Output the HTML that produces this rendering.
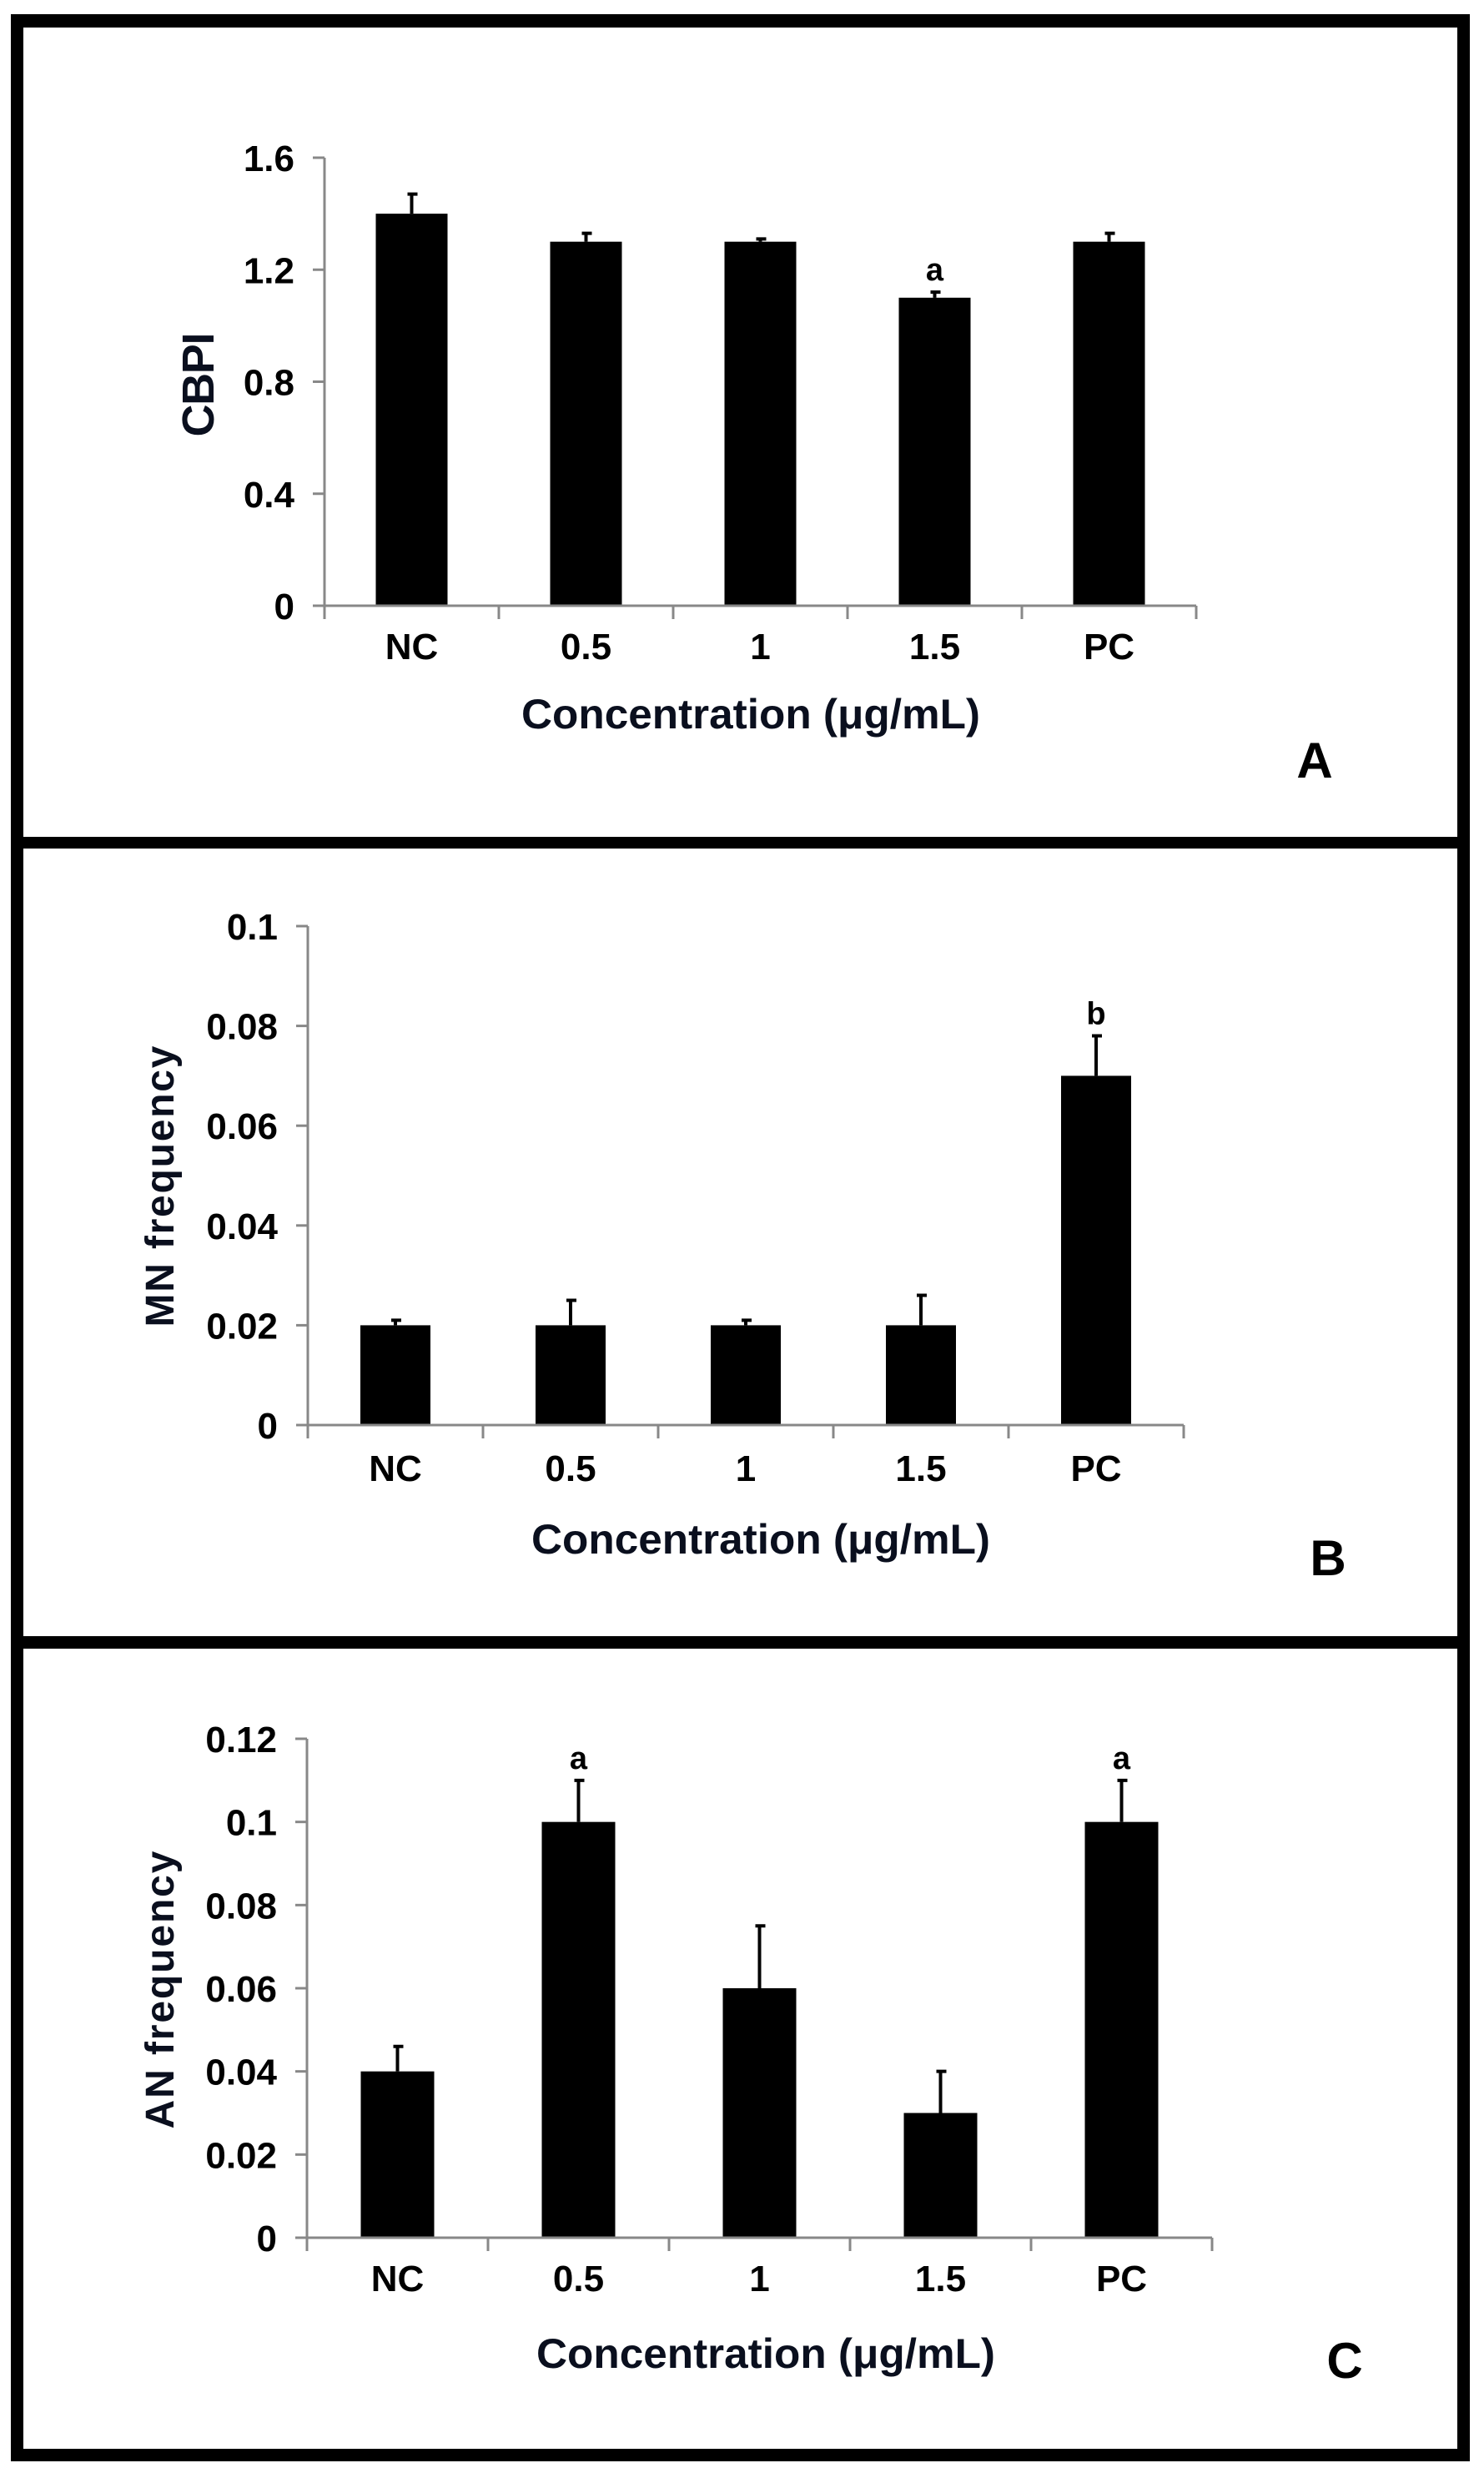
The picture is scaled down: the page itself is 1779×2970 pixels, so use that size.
<!DOCTYPE html>
<html><head><meta charset="utf-8"><style>
html,body{margin:0;padding:0;background:#fff}
svg{display:block}
text{font-family:"Liberation Sans",Arial,sans-serif;font-weight:bold}
</style></head><body>
<svg id="fig" width="1779" height="2970" viewBox="0 0 1779 2970" xmlns="http://www.w3.org/2000/svg">
<rect x="0" y="0" width="1779" height="2970" fill="#fff"/>
<g fill="#000">
<rect x="13" y="17" width="1749" height="16"/>
<rect x="13" y="17" width="15" height="2933"/>
<rect x="1747" y="17" width="15" height="2933"/>
<rect x="13" y="2935" width="1749" height="15"/>
<rect x="13" y="1003" width="1749" height="14"/>
<rect x="13" y="1961" width="1749" height="15"/>
</g>
<g id="charts"></g>
</svg>
<script>
const categories = ["NC","0.5","1","1.5","PC"];
const cbpiValues = [1.4,1.3,1.3,1.1,1.3];
const cbpiErrors = [0.07,0.03,0.01,0.02,0.03];
const cbpiMarks = ["","","","a",""];
const cbpiTicks = [0,0.4,0.8,1.2,1.6];
const cbpiTickLabels = ["0","0.4","0.8","1.2","1.6"];
const mnValues = [0.02,0.02,0.02,0.02,0.07];
const mnErrors = [0.001,0.005,0.001,0.006,0.008];
const mnMarks = ["","","","","b"];
const mnTicks = [0,0.02,0.04,0.06,0.08,0.1];
const mnTickLabels = ["0","0.02","0.04","0.06","0.08","0.1"];
const anValues = [0.04,0.1,0.06,0.03,0.1];
const anErrors = [0.006,0.01,0.015,0.01,0.01];
const anMarks = ["","a","","","a"];
const anTicks = [0,0.02,0.04,0.06,0.08,0.1,0.12];
const anTickLabels = ["0","0.02","0.04","0.06","0.08","0.1","0.12"];

const NS="http://www.w3.org/2000/svg";
const root=document.getElementById('charts');
function mk(tag,attrs,parent){const e=document.createElementNS(NS,tag);for(const k in attrs)e.setAttribute(k,attrs[k]);(parent||root).appendChild(e);return e;}

function drawChart(cfg){
  const g=mk('g',{});
  
  
  const y=v=>cfg.y0-(v-cfg.vmin)/(cfg.vmax-cfg.vmin)*(cfg.y0-cfg.y1);
  const xc=i=>cfg.x0+(i+0.5)*cfg.step;
  const xEnd=cfg.x0+cfg.step*categories.length;
  cfg.values.forEach((v,i)=>{
    const b=mk('rect',{x:xc(i)-cfg.bw/2,y:y(v),width:cfg.bw,height:cfg.y0-y(v),fill:'#000'},g);
    
    
    const top=y(v+cfg.errors[i]);
    const e=mk('path',{d:`M${xc(i)} ${y(v)}V${top}M${xc(i)-5} ${top}H${xc(i)+7}`,stroke:'#000','stroke-width':4,fill:'none'},g);
    
    
    if(cfg.marks[i]){
      const t=mk('text',{x:xc(i),y:top-14,'text-anchor':'middle','font-size':38,fill:'#000'},g);
      t.textContent=cfg.marks[i];
      
      
    }
  });
  const ya=mk('line',{x1:cfg.x0,y1:y(cfg.ticks[cfg.ticks.length-1]),x2:cfg.x0,y2:cfg.y0+16,stroke:'#888','stroke-width':3},g);
  
  
  const xa=mk('line',{x1:cfg.x0-14,y1:cfg.y0,x2:xEnd,y2:cfg.y0,stroke:'#888','stroke-width':3},g);
  
  
  for(let i=1;i<=categories.length;i++){
    mk('line',{x1:cfg.x0+i*cfg.step,y1:cfg.y0,x2:cfg.x0+i*cfg.step,y2:cfg.y0+16,stroke:'#888','stroke-width':3},g);
  }
  cfg.ticks.forEach((v,i)=>{
    mk('line',{x1:cfg.x0-14,y1:y(v),x2:cfg.x0,y2:y(v),stroke:'#888','stroke-width':3},g);
    const t=mk('text',{x:cfg.x0-36,y:y(v)+16,'text-anchor':'end','font-size':44,fill:'#000'},g);
    t.textContent=cfg.tickLabels[i];
    
    
  });
  categories.forEach((c,i)=>{
    const t=mk('text',{x:xc(i),y:cfg.y0+cfg.labOff,'text-anchor':'middle','font-size':44,fill:'#000'},g);
    t.textContent=c;
    
    
  });
  const xt=mk('text',{x:cfg.titleX,y:cfg.y0+cfg.titleOff,'text-anchor':'middle','font-size':50,fill:'#0a0f1e',textLength:550,lengthAdjust:'spacingAndGlyphs'},g);
  xt.textContent='Concentration (μg/mL)';
  
  
  const yt=mk('text',{x:0,y:0,'text-anchor':'middle','font-size':cfg.ytSize,fill:'#0a0f1e',transform:`translate(${cfg.ytX},${cfg.ytY}) rotate(-90)`},g);
  if(cfg.ytLen) yt.setAttribute('textLength',cfg.ytLen);
  yt.textContent=cfg.yTitle;
  
  
  const pl=mk('text',{x:cfg.letterX,y:cfg.letterY,'text-anchor':'middle','font-size':60,fill:'#000'},g);
  pl.textContent=cfg.letter;
  
  
}

drawChart({name:'chart-cbpi',values:cbpiValues,errors:cbpiErrors,marks:cbpiMarks,ticks:cbpiTicks,tickLabels:cbpiTickLabels,
  vmin:0,vmax:1.6,x0:389,y0:726,y1:189,step:209,bw:86,labOff:64,titleOff:147,titleX:900,
  ytX:256,ytY:461,yTitle:'CBPI',ytLen:125,ytSize:54,letter:'A',letterX:1576,letterY:932});
drawChart({name:'chart-mn-frequency',values:mnValues,errors:mnErrors,marks:mnMarks,ticks:mnTicks,tickLabels:mnTickLabels,
  vmin:0,vmax:0.1,x0:369,y0:1708,y1:1110,step:210,bw:84,labOff:67,titleOff:154,titleX:912,
  ytX:208,ytY:1422,yTitle:'MN frequency',ytLen:337,ytSize:48,letter:'B',letterX:1592,letterY:1888});
drawChart({name:'chart-an-frequency',values:anValues,errors:anErrors,marks:anMarks,ticks:anTicks,tickLabels:anTickLabels,
  vmin:0,vmax:0.12,x0:368,y0:2682,y1:2084,step:217,bw:88,labOff:64,titleOff:156,titleX:918,
  ytX:208,ytY:2385,yTitle:'AN frequency',ytLen:333,ytSize:48,letter:'C',letterX:1612,letterY:2850});
</script>
</body></html>
